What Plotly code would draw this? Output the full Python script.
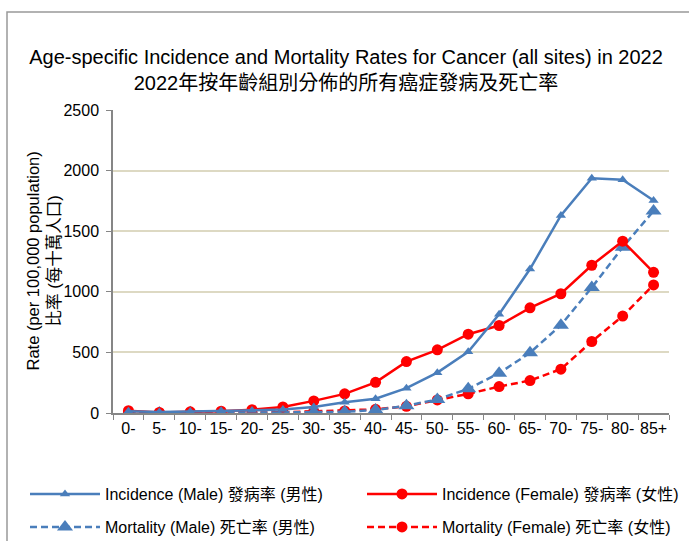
import plotly.graph_objects as go

ages = ["0-", "5-", "10-", "15-", "20-", "25-", "30-", "35-", "40-", "45-",
        "50-", "55-", "60-", "65-", "70-", "75-", "80-", "85+"]
inc_male = [15, 8, 12, 18, 20, 28, 50, 88, 118, 205, 333, 505, 815, 1188, 1630, 1937, 1925, 1753]
inc_female = [19, 5, 10, 15, 27, 50, 100, 158, 253, 424, 521, 650, 722, 868, 984, 1219, 1418, 1161]
mort_male = [2, 1, 2, 3, 4, 5, 6, 10, 25, 60, 112, 200, 328, 497, 725, 1035, 1367, 1667]
mort_female = [2, 1, 2, 3, 4, 6, 13, 17, 30, 55, 108, 158, 218, 268, 362, 590, 800, 1057]

names = ["Incidence (Male) 發病率 (男性)", "Incidence (Female) 發病率 (女性)",
         "Mortality (Male) 死亡率 (男性)", "Mortality (Female) 死亡率 (女性)"]

BLUE = "#4a7ebb"
RED = "#ff0000"
FONT = "Liberation Sans, Arial, Noto Sans CJK TC, sans-serif"

fig = go.Figure()
fig.add_trace(go.Scatter(x=ages, y=mort_female, name=names[3], mode="lines+markers",
                         line=dict(color=RED, width=2.5, dash="7px,4px"),
                         marker=dict(symbol="circle", size=11, color=RED), legend="legend4"))
fig.add_trace(go.Scatter(x=ages, y=mort_male, name=names[2], mode="lines+markers",
                         line=dict(color=BLUE, width=2.5, dash="7px,4px"),
                         marker=dict(symbol="triangle-up", size=14, color=BLUE), legend="legend3"))
fig.add_trace(go.Scatter(x=ages, y=inc_female, name=names[1], mode="lines+markers",
                         line=dict(color=RED, width=2.5),
                         marker=dict(symbol="circle", size=11, color=RED), legend="legend2"))
fig.add_trace(go.Scatter(x=ages, y=inc_male, name=names[0], mode="lines+markers",
                         line=dict(color=BLUE, width=2.5),
                         marker=dict(symbol="triangle-up", size=9, color=BLUE), legend="legend"))

L, R, T, B = 113, 20, 110, 128
W, H = 689, 541
pw, ph = W - L - R, H - T - B

def px(x):
    return (x - L) / pw

def py(y):
    return (H - B - y) / ph

def cx(x):
    return x / W

def cy(y):
    return 1 - y / H

legcommon = dict(orientation="h", xanchor="left", yanchor="middle", itemwidth=70,
                 xref="container", yref="container",
                 font=dict(family=FONT, size=16, color="#000000"), bgcolor="rgba(0,0,0,0)",
                 itemsizing="trace")
fig.update_layout(
    width=W, height=H,
    margin=dict(l=L, r=R, t=T, b=B, autoexpand=False),
    paper_bgcolor="white", plot_bgcolor="white",
    showlegend=True,
    font=dict(family=FONT, size=16, color="#000000"),
    title=dict(text="Age-specific Incidence and Mortality Rates for Cancer (all sites) in 2022<br>2022年按年齡組別分佈的所有癌症發病及死亡率",
               x=cx(346), xref="container", xanchor="center", y=cy(64), yref="container", yanchor="middle",
               font=dict(family=FONT, size=20, color="#000000")),
    xaxis=dict(type="category", showgrid=False, showline=True, linecolor="#868686", linewidth=1.5,
               ticks="outside", tickson="boundaries", ticklen=5, tickcolor="#868686",
               tickfont=dict(size=16), tickangle=0, range=[-0.5, 17.5], automargin=False),
    yaxis=dict(range=[0, 2500], dtick=500, showgrid=True, gridcolor="#ddd9c3", gridwidth=1.5,
               showline=True, linecolor="#868686", linewidth=1.5, ticks="outside", ticklen=5,
               tickcolor="#868686", tickfont=dict(size=16), zeroline=False, automargin=False,
               ticklabelstandoff=4),
    annotations=[dict(text="Rate (per 100,000 population)<br>比率 (每十萬人口)", textangle=-90,
                      xref="paper", yref="paper", x=px(43), y=0.5, xanchor="center", yanchor="middle",
                      showarrow=False, font=dict(family=FONT, size=16.5, color="#000000"))],
    legend=dict(x=cx(25), y=cy(494), **legcommon),
    legend2=dict(x=cx(362), y=cy(494), **legcommon),
    legend3=dict(x=cx(25), y=cy(527), **legcommon),
    legend4=dict(x=cx(362), y=cy(527), **legcommon),
    shapes=[dict(type="rect", xref="paper", yref="paper", x0=px(7), x1=px(720), y0=py(12), y1=py(600),
                 line=dict(color="#999999", width=1.5), fillcolor="rgba(0,0,0,0)", layer="below")],
)

fig.write_html("out.html", config={"displayModeBar": False},
               post_script="document.body.style.margin='0';")
